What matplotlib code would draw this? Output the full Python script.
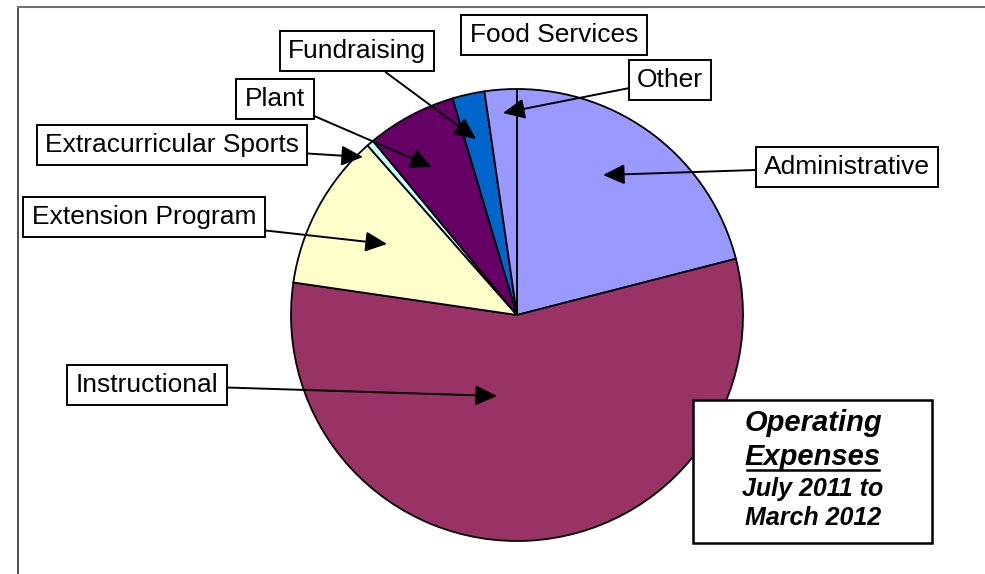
import matplotlib.pyplot as plt
from matplotlib.lines import Line2D
from matplotlib.patches import Rectangle

plt.rcParams['font.family'] = ['Liberation Sans', 'DejaVu Sans']

# expense categories (share of total, %), clockwise from 12 o'clock
categories = ['Administrative', 'Instructional', 'Extension Program',
              'Extracurricular Sports', 'Plant', 'Fundraising',
              'Food Services', 'Other']
shares = [21.0, 56.3, 11.2, 0.5, 6.4, 2.3, 0.0, 2.3]
colors = ['#9999FF', '#993366', '#FFFFCC', '#CCFFFF', '#660066',
          '#0066CC', '#FF8080', '#9999FF']

title_lines = ['Operating', 'Expenses', 'July 2011 to', 'March 2012']

W, H = 985, 574


def py(y):
    # pixel row (from top) -> data y
    return H - y


fig = plt.figure(figsize=(W / 100, H / 100), dpi=100)
ax = fig.add_axes([18 / W, 0, (W - 18) / W, (H - 7) / H])

ax.pie([s if s > 0 else 1e-9 for s in shares], colors=colors,
       startangle=90, counterclock=False, center=(517, py(315)),
       radius=226, frame=True,
       wedgeprops=dict(edgecolor='black', linewidth=1.3))

ax.set_xlim(18, W)
ax.set_ylim(0, H - 7)
ax.set_aspect('equal')
ax.set_xticks([])
ax.set_yticks([])
for s in ['right', 'bottom']:
    ax.spines[s].set_visible(False)
ax.spines['top'].set_color('#707070')
ax.spines['left'].set_color('#303030')
ax.spines['top'].set_linewidth(1.5)
ax.spines['left'].set_linewidth(1.2)

# label boxes: (box centre, arrow tip) in pixels
label_pos = {
    'Administrative': ((847, 167), (603, 175)),
    'Instructional': ((147, 385), (497, 396)),
    'Extension Program': ((144, 217), (387, 244)),
    'Extracurricular Sports': ((172, 145), (363, 157)),
    'Plant': ((275, 99), (432, 167)),
    'Fundraising': ((357, 51), (476, 139)),
    'Food Services': ((554, 35), None),
    'Other': ((670, 80), (503, 113)),
}

box = dict(boxstyle='square,pad=0.32', facecolor='white',
           edgecolor='black', linewidth=1.4)
arrow = dict(arrowstyle='-|>,head_length=0.6,head_width=0.28',
             color='black', lw=1.4, mutation_scale=22, shrinkA=0,
             shrinkB=0)

for name in categories:
    (cx, cy), tip = label_pos[name]
    if tip is None:
        ax.text(cx, py(cy), name, fontsize=19, ha='center', va='center',
                bbox=box)
    else:
        ax.annotate(name, xy=(tip[0], py(tip[1])), xytext=(cx, py(cy)),
                    fontsize=19, ha='center', va='center', bbox=box,
                    arrowprops=arrow)

# title box
ax.add_patch(Rectangle((693, py(543)), 932 - 693, 543 - 400,
                       facecolor='white', edgecolor='black',
                       linewidth=1.8, zorder=5))
title_y = [423, 457, 489, 518]
title_size = [21, 21, 18, 18]
texts = []
for line, y, fs in zip(title_lines, title_y, title_size):
    t = ax.text(813, py(y), line, fontsize=fs, fontweight='bold',
                fontstyle='italic', ha='center', va='center', zorder=6)
    texts.append(t)

# underline "Expenses"
fig.canvas.draw()
bb = texts[1].get_window_extent().transformed(fig.transFigure.inverted())
uy = py(470) / H
fig.add_artist(Line2D([bb.x0 + 0.002, bb.x1 - 0.002], [uy, uy],
                      color='black', linewidth=1.8, zorder=7))

fig.savefig('out.png', dpi=100)
